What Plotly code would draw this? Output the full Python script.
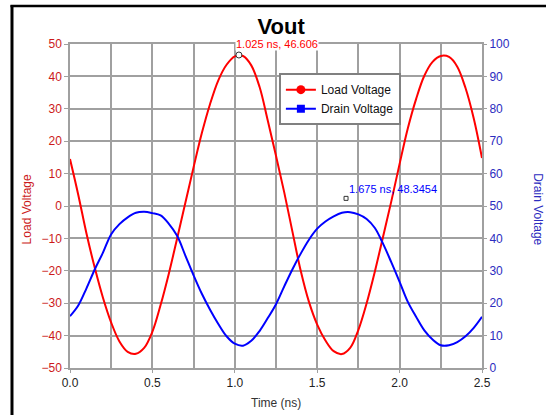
import plotly.graph_objects as go

# ---- data ----
time_ns = [0.00, 0.05, 0.10, 0.15, 0.20, 0.25, 0.30, 0.35, 0.40, 0.45,
           0.50, 0.55, 0.60, 0.65, 0.70, 0.75, 0.80, 0.85, 0.90, 0.95,
           1.00, 1.05, 1.10, 1.15, 1.20, 1.25, 1.30, 1.35, 1.40, 1.45,
           1.50, 1.55, 1.60, 1.65, 1.70, 1.75, 1.80, 1.85, 1.90, 1.95,
           2.00, 2.05, 2.10, 2.15, 2.20, 2.25, 2.30, 2.35, 2.40, 2.45, 2.50]

load_voltage = [14.5, 3.5, -8.5, -19.0, -28.3, -36.0, -41.8, -45.0, -45.6, -43.8,
                -38.8, -30.5, -20.8, -10.0, 1.0, 12.0, 22.5, 31.5, 38.8, 43.6,
                46.2, 46.3, 43.4, 36.8, 26.4, 15.5, 4.2, -8.0, -20.0, -29.6,
                -36.6, -41.5, -44.8, -45.7, -43.8, -38.2, -30.0, -20.2, -9.4, 1.5,
                13.0, 24.0, 33.0, 40.2, 44.5, 46.3, 46.0, 43.0, 36.4, 27.0, 14.8]

drain_voltage = [16.0, 19.3, 24.6, 30.4, 35.6, 41.3, 44.4, 46.5, 47.9, 48.2,
                 47.8, 47.1, 44.5, 40.8, 34.7, 28.6, 22.9, 18.0, 13.6, 9.8,
                 7.5, 6.9, 8.4, 11.4, 15.4, 19.7, 25.2, 30.5, 35.3, 39.6,
                 43.0, 45.2, 46.8, 47.9, 48.1, 47.4, 46.0, 43.2, 38.3, 32.6,
                 26.6, 20.4, 15.8, 11.6, 8.8, 7.0, 7.0, 8.0, 9.8, 12.4, 15.8]

load_marker_t, load_marker_v = 1.025, 46.606
drain_marker_t, drain_marker_v = 1.675, 48.3454

x_range = [0, 2.5]
left_range = [-50, 50]
right_range = [0, 100]

FONT = "Liberation Sans, Arial, sans-serif"
RED = "#ff0000"
BLUE = "#0000ff"
RED_TXT = "#cc1a1a"
BLUE_TXT = "#2c2cc0"
GRID = "#a0a0a0"

fig = go.Figure()

fig.add_trace(go.Scatter(x=time_ns, y=load_voltage, mode="lines",
                         line=dict(color=RED, width=2, shape="spline", smoothing=1),
                         showlegend=False, hoverinfo="skip"))
fig.add_trace(go.Scatter(x=time_ns, y=drain_voltage, mode="lines", yaxis="y2",
                         line=dict(color=BLUE, width=2, shape="spline", smoothing=1),
                         showlegend=False, hoverinfo="skip"))

# legend entries (line + marker)
fig.add_trace(go.Scatter(x=[None], y=[None], mode="lines+markers", name="Load Voltage",
                         line=dict(color=RED, width=2),
                         marker=dict(symbol="circle", size=9, color=RED)))
fig.add_trace(go.Scatter(x=[None], y=[None], mode="lines+markers", name="Drain Voltage",
                         line=dict(color=BLUE, width=2),
                         marker=dict(symbol="square", size=8, color=BLUE)))

# data marker on load voltage peak
fig.add_trace(go.Scatter(x=[load_marker_t], y=[load_marker_v], mode="markers",
                         marker=dict(symbol="circle", size=6, color="white",
                                     line=dict(color="#333333", width=1)),
                         showlegend=False, hoverinfo="skip"))

annotations = [
    dict(x=load_marker_t, y=load_marker_v, xref="x", yref="y",
         text=f"{load_marker_t:.3f} ns, {load_marker_v}", showarrow=False,
         xanchor="left", yanchor="middle", xshift=-4, yshift=11,
         bgcolor="white", borderpad=0,
         font=dict(family=FONT, size=11, color=RED)),
    dict(x=drain_marker_t, y=drain_marker_v, xref="x", yref="y2",
         text=f"{drain_marker_t:.3f} ns, {drain_marker_v}", showarrow=False,
         xanchor="left", yanchor="middle", xshift=2, yshift=22,
         borderpad=0,
         font=dict(family=FONT, size=11, color=BLUE)),
    dict(x=0.5, y=-0.108, xref="paper", yref="paper", text="Time (ns)",
         showarrow=False, xanchor="center", yanchor="middle",
         font=dict(family=FONT, size=12, color="#333333")),
    dict(x=-0.104, y=0.49, xref="paper", yref="paper", text="Load Voltage",
         showarrow=False, textangle=-90, xanchor="center", yanchor="middle",
         font=dict(family=FONT, size=12, color=RED_TXT)),
    dict(x=1.136, y=0.49, xref="paper", yref="paper", text="Drain Voltage",
         showarrow=False, textangle=90, xanchor="center", yanchor="middle",
         font=dict(family=FONT, size=12, color=BLUE_TXT)),
]

shapes = [
    # small square marker for the drain-voltage readout
    dict(type="rect", xref="x", yref="y2", xsizemode="pixel", ysizemode="pixel",
         xanchor=drain_marker_t, yanchor=drain_marker_v,
         x0=-2, x1=2, y0=11, y1=15, line=dict(color="#333333", width=1),
         fillcolor="white"),
    # outer black frame (left and top edges)
    dict(type="line", xref="paper", yref="paper", x0=-0.1408, x1=-0.1408,
         y0=1.1195, y1=-0.2, line=dict(color="black", width=3)),
    dict(type="line", xref="paper", yref="paper", x0=-0.1445, x1=1.2,
         y0=1.1175, y1=1.1175, line=dict(color="black", width=2.5)),
]

fig.update_layout(
    width=546, height=415, autosize=False,
    margin=dict(l=70, r=64, t=44, b=47, pad=0),
    paper_bgcolor="white", plot_bgcolor="white",
    font=dict(family=FONT, size=12, color="#222222"),
    title=dict(text="<b>Vout</b>", x=0.515, xref="container", xanchor="center",
               y=0.937, yref="container", yanchor="middle",
               font=dict(family=FONT, size=22, color="black")),
    xaxis=dict(range=x_range, dtick=0.5, tick0=0, tickformat=".1f",
               showgrid=True, gridcolor=GRID, gridwidth=1.5,
               minor=dict(dtick=0.25, showgrid=True, gridcolor=GRID, gridwidth=1.5),
               zeroline=False, showline=True, linecolor=GRID, linewidth=1.5, mirror=True,
               ticks="outside", ticklen=3, tickcolor=GRID,
               tickfont=dict(family=FONT, size=12, color="#222222"), fixedrange=True),
    yaxis=dict(range=left_range, dtick=10, tick0=-50,
               showgrid=True, gridcolor=GRID, gridwidth=1.5,
               zeroline=False, showline=True, linecolor=GRID, linewidth=1.5, mirror=True,
               ticks="outside", ticklen=4, tickcolor=GRID,
               tickfont=dict(family=FONT, size=12, color=RED_TXT), fixedrange=True),
    yaxis2=dict(range=right_range, dtick=10, tick0=0, overlaying="y", side="right",
                showgrid=False, zeroline=False, showline=False,
                ticks="outside", ticklen=4, tickcolor=GRID,
                tickfont=dict(family=FONT, size=12, color=BLUE_TXT), fixedrange=True),
    legend=dict(x=0.507, y=0.91, xanchor="left", yanchor="top",
                bgcolor="white", bordercolor="#808080", borderwidth=2,
                itemwidth=30, tracegroupgap=0,
                font=dict(family=FONT, size=12, color="#111111")),
    annotations=annotations,
    shapes=shapes,
    showlegend=True,
)

fig.write_html("out.html", config={"displayModeBar": False},
               post_script="document.body.style.margin='0';document.body.style.overflow='hidden';")
